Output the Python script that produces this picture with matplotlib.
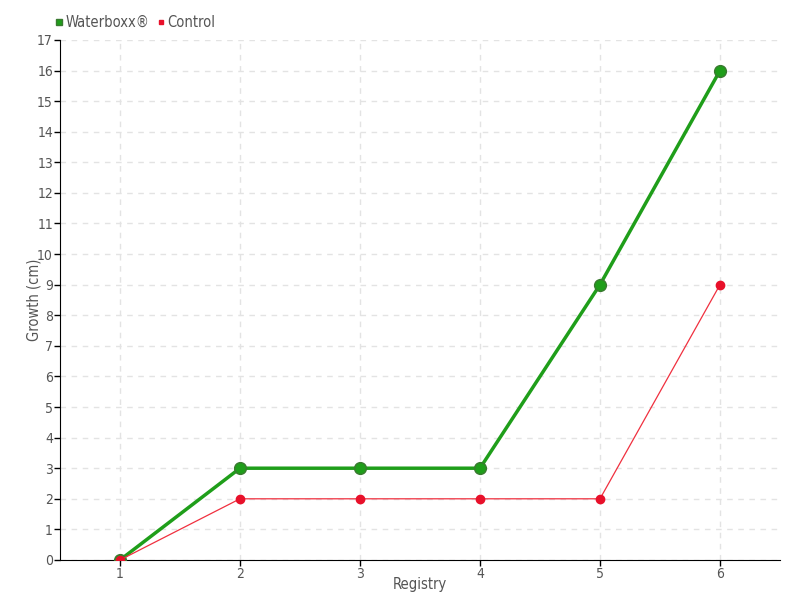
import matplotlib
matplotlib.use("Agg")
import matplotlib.pyplot as plt

registry = [1, 2, 3, 4, 5, 6]
waterboxx = [0, 3, 3, 3, 9, 16]
control = [0, 2, 2, 2, 2, 9]

plt.rcParams["font.family"] = ["DejaVu Sans"]
plt.rcParams["font.stretch"] = "condensed"
text_color = "#555555"

fig = plt.figure(figsize=(8, 6), dpi=100)
ax = fig.add_axes([0.075, 0.0667, 0.9, 0.8667])

ax.plot(registry, waterboxx, color="#1f9e1a", lw=2.5, marker="o", ms=8.5,
        mfc="#1f9e1a", mec="#3a7a30", mew=1, label="Waterboxx®", zorder=3)
ax.plot(registry, control, color="#f0303f", lw=0.9, marker="o", ms=6,
        mfc="#e8102a", mec="#e8102a", label="Control", zorder=4)

ax.set_xlim(0.5, 6.5)
ax.set_ylim(0, 17)
ax.set_xticks(registry)
ax.set_yticks(range(0, 18))
ax.grid(True, color="#e3e3e3", linestyle=(0, (4, 4)), lw=1)
ax.set_axisbelow(True)

for side in ["top", "right"]:
    ax.spines[side].set_visible(False)
ax.tick_params(colors=text_color, labelsize=10, length=4, width=1, pad=1)
ax.tick_params(axis="both", color="black")

ax.set_xlabel("Registry", color=text_color, fontsize=10.5, labelpad=-3)
ax.set_ylabel("Growth (cm)", color=text_color, fontsize=10.5, labelpad=-3)

ax.legend(loc="lower left", bbox_to_anchor=(-0.02, 1.0), ncol=2, frameon=False,
          fontsize=10.5, labelcolor=text_color, handlelength=0.5, handletextpad=0.2,
          columnspacing=0.5, markerscale=0.55, borderaxespad=0.3)
leg = ax.get_legend()
for h in leg.legend_handles:
    h.set_linestyle("none")
    h.set_marker("s")

fig.savefig("out.png", dpi=100)
